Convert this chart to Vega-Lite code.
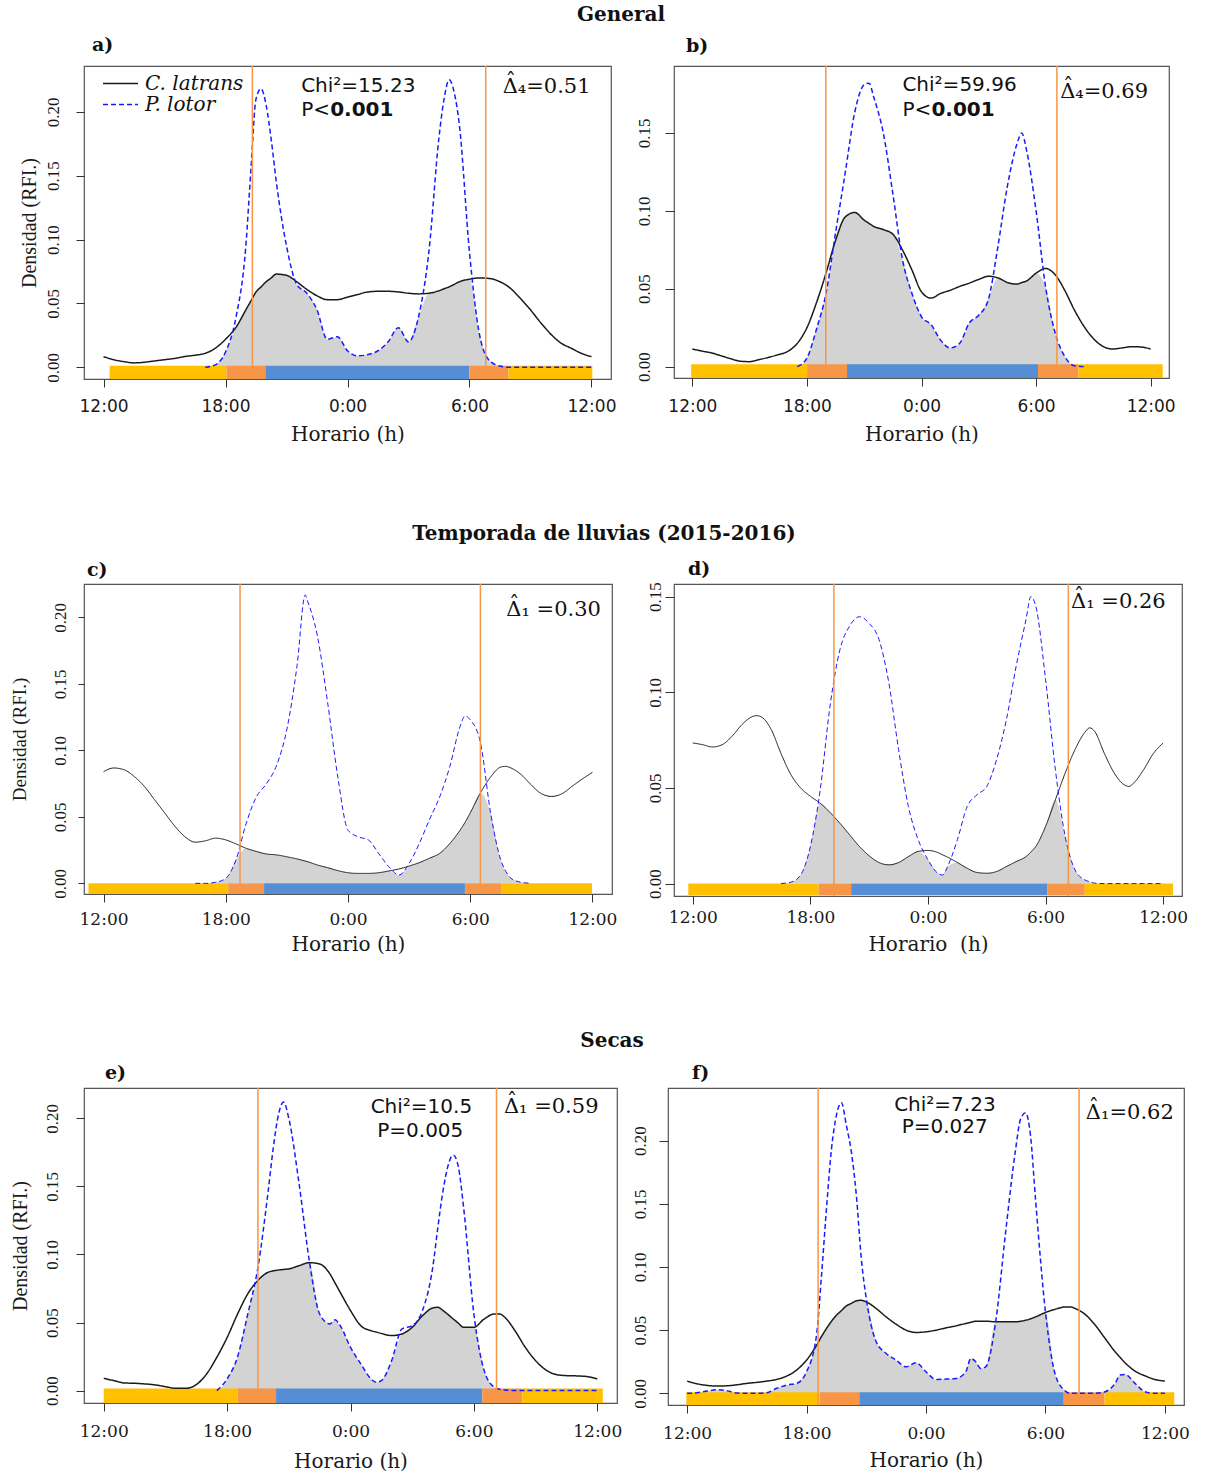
{
"$schema":"https://vega.github.io/schema/vega-lite/v6.json",
"background":"white",
"padding":{"left":9,"top":4,"right":5,"bottom":2},
"bounds":"flush",
"spacing":518,
"config":{"view":{"stroke":"#555","strokeWidth":1.2},"axis":{"domain":false,"grid":false,"tickColor":"#333","labelColor":"#1a1a1a","titleColor":"#1a1a1a","titleFontWeight":"normal","labelFlush":false,"labelOverlap":false},"title":{"color":"#111"}},
"datasets":{
"a":[
{"h":0,"k":0.0084,"r":null,"o":0},{"h":0.5,"k":0.006,"r":null,"o":0},{"h":1,"k":0.0045,"r":null,"o":0},{"h":1.5,"k":0.0035,"r":null,"o":0},{"h":2,"k":0.004,"r":null,"o":0},{"h":2.5,"k":0.005,"r":null,"o":0},{"h":3,"k":0.006,"r":null,"o":0},{"h":3.5,"k":0.007,"r":null,"o":0},{"h":4,"k":0.0085,"r":null,"o":0},{"h":4.5,"k":0.0095,"r":null,"o":0},{"h":5,"k":0.011,"r":0,"o":0},{"h":5.5,"k":0.015,"r":0.002,"o":0.002},{"h":6,"k":0.022,"r":0.012,"o":0.012},{"h":6.5,"k":0.031,"r":0.038,"o":0.031},{"h":7,"k":0.045,"r":0.095,"o":0.045},{"h":7.25,"k":0.052,"r":0.155,"o":0.052},{"h":7.5,"k":0.059,"r":0.21,"o":0.059},{"h":7.75,"k":0.063,"r":0.218,"o":0.063},{"h":8,"k":0.067,"r":0.205,"o":0.067},{"h":8.25,"k":0.07,"r":0.178,"o":0.07},{"h":8.5,"k":0.073,"r":0.145,"o":0.073},{"h":9,"k":0.072,"r":0.095,"o":0.072},{"h":9.5,"k":0.067,"r":0.065,"o":0.065},{"h":10,"k":0.061,"r":0.058,"o":0.058},{"h":10.5,"k":0.056,"r":0.045,"o":0.045},{"h":11,"k":0.053,"r":0.022,"o":0.022},{"h":11.5,"k":0.053,"r":0.024,"o":0.024},{"h":12,"k":0.055,"r":0.013,"o":0.013},{"h":12.5,"k":0.057,"r":0.009,"o":0.009},{"h":13,"k":0.059,"r":0.01,"o":0.01},{"h":13.5,"k":0.0595,"r":0.013,"o":0.013},{"h":14,"k":0.0595,"r":0.02,"o":0.02},{"h":14.5,"k":0.059,"r":0.031,"o":0.031},{"h":15,"k":0.058,"r":0.02,"o":0.02},{"h":15.5,"k":0.0575,"r":0.04,"o":0.04},{"h":16,"k":0.058,"r":0.09,"o":0.058},{"h":16.5,"k":0.06,"r":0.18,"o":0.06},{"h":16.75,"k":0.0615,"r":0.21,"o":0.0615},{"h":17,"k":0.063,"r":0.225,"o":0.063},{"h":17.25,"k":0.065,"r":0.215,"o":0.065},{"h":17.5,"k":0.067,"r":0.19,"o":0.067},{"h":18,"k":0.069,"r":0.09,"o":0.069},{"h":18.5,"k":0.07,"r":0.025,"o":0.025},{"h":19,"k":0.0695,"r":0.005,"o":0.005},{"h":19.5,"k":0.067,"r":0.001,"o":0.001},{"h":20,"k":0.062,"r":0,"o":0},{"h":20.5,"k":0.054,"r":0,"o":0},{"h":21,"k":0.045,"r":0,"o":0},{"h":21.5,"k":0.035,"r":0,"o":0},{"h":22,"k":0.026,"r":0,"o":0},{"h":22.5,"k":0.019,"r":0,"o":0},{"h":23,"k":0.015,"r":0,"o":0},{"h":23.5,"k":0.011,"r":0,"o":0},{"h":24,"k":0.0084,"r":0,"o":0}],
"b":[
{"h":0,"k":0.0113,"r":null,"o":0},{"h":0.5,"k":0.01,"r":null,"o":0},{"h":1,"k":0.0088,"r":null,"o":0},{"h":1.5,"k":0.007,"r":null,"o":0},{"h":2,"k":0.0051,"r":null,"o":0},{"h":2.5,"k":0.0035,"r":null,"o":0},{"h":3,"k":0.0032,"r":null,"o":0},{"h":3.5,"k":0.0045,"r":null,"o":0},{"h":4,"k":0.006,"r":null,"o":0},{"h":4.5,"k":0.0077,"r":null,"o":0},{"h":5,"k":0.0098,"r":null,"o":0},{"h":5.5,"k":0.015,"r":0,"o":0},{"h":6,"k":0.025,"r":0.0055,"o":0.0055},{"h":6.5,"k":0.041,"r":0.024,"o":0.024},{"h":7,"k":0.06,"r":0.047,"o":0.047},{"h":7.5,"k":0.081,"r":0.086,"o":0.081},{"h":8,"k":0.096,"r":0.124,"o":0.096},{"h":8.5,"k":0.099,"r":0.163,"o":0.099},{"h":9,"k":0.094,"r":0.181,"o":0.094},{"h":9.25,"k":0.092,"r":0.182,"o":0.092},{"h":9.5,"k":0.09,"r":0.173,"o":0.09},{"h":10,"k":0.088,"r":0.15,"o":0.088},{"h":10.5,"k":0.085,"r":0.111,"o":0.085},{"h":11,"k":0.075,"r":0.069,"o":0.069},{"h":11.5,"k":0.062,"r":0.047,"o":0.047},{"h":12,"k":0.048,"r":0.032,"o":0.032},{"h":12.5,"k":0.044,"r":0.027,"o":0.027},{"h":13,"k":0.047,"r":0.017,"o":0.017},{"h":13.5,"k":0.049,"r":0.012,"o":0.012},{"h":14,"k":0.0515,"r":0.015,"o":0.015},{"h":14.5,"k":0.0536,"r":0.028,"o":0.028},{"h":15,"k":0.056,"r":0.033,"o":0.033},{"h":15.5,"k":0.058,"r":0.043,"o":0.043},{"h":16,"k":0.057,"r":0.077,"o":0.057},{"h":16.5,"k":0.054,"r":0.116,"o":0.054},{"h":17,"k":0.053,"r":0.143,"o":0.053},{"h":17.25,"k":0.054,"r":0.15,"o":0.054},{"h":17.5,"k":0.055,"r":0.139,"o":0.055},{"h":18,"k":0.06,"r":0.1,"o":0.06},{"h":18.5,"k":0.063,"r":0.051,"o":0.051},{"h":19,"k":0.059,"r":0.0216,"o":0.0216},{"h":19.5,"k":0.049,"r":0.0066,"o":0.0066},{"h":20,"k":0.0365,"r":0.0006,"o":0.0006},{"h":20.5,"k":0.026,"r":0,"o":0},{"h":21,"k":0.018,"r":null,"o":0},{"h":21.5,"k":0.013,"r":null,"o":0},{"h":22,"k":0.0113,"r":null,"o":0},{"h":22.5,"k":0.012,"r":null,"o":0},{"h":23,"k":0.0128,"r":null,"o":0},{"h":23.5,"k":0.0126,"r":null,"o":0},{"h":24,"k":0.0113,"r":null,"o":0}],
"c":[
{"h":0,"k":0.084,"r":null,"o":0},{"h":0.5,"k":0.0868,"r":null,"o":0},{"h":1,"k":0.0855,"r":null,"o":0},{"h":1.5,"k":0.0805,"r":null,"o":0},{"h":2,"k":0.073,"r":null,"o":0},{"h":2.5,"k":0.063,"r":null,"o":0},{"h":3,"k":0.053,"r":null,"o":0},{"h":3.5,"k":0.043,"r":null,"o":0},{"h":4,"k":0.035,"r":null,"o":0},{"h":4.5,"k":0.031,"r":0,"o":0},{"h":5,"k":0.032,"r":0,"o":0},{"h":5.5,"k":0.034,"r":0.0008,"o":0.0008},{"h":6,"k":0.0327,"r":0.0038,"o":0.0038},{"h":6.5,"k":0.0297,"r":0.0176,"o":0.0176},{"h":7,"k":0.0264,"r":0.045,"o":0.0264},{"h":7.5,"k":0.024,"r":0.065,"o":0.024},{"h":8,"k":0.0221,"r":0.075,"o":0.0221},{"h":8.5,"k":0.0214,"r":0.089,"o":0.0214},{"h":9,"k":0.02,"r":0.116,"o":0.02},{"h":9.5,"k":0.0184,"r":0.164,"o":0.0184},{"h":9.9,"k":0.0168,"r":0.217,"o":0.0168},{"h":10,"k":0.0164,"r":0.213,"o":0.0164},{"h":10.5,"k":0.0138,"r":0.186,"o":0.0138},{"h":11,"k":0.0118,"r":0.136,"o":0.0118},{"h":11.5,"k":0.0096,"r":0.08,"o":0.0096},{"h":12,"k":0.008,"r":0.04,"o":0.008},{"h":12.5,"k":0.0075,"r":0.035,"o":0.0075},{"h":13,"k":0.0075,"r":0.0327,"o":0.0075},{"h":13.5,"k":0.008,"r":0.0226,"o":0.008},{"h":14,"k":0.0093,"r":0.0126,"o":0.0093},{"h":14.5,"k":0.0108,"r":0.0063,"o":0.0063},{"h":15,"k":0.013,"r":0.015,"o":0.013},{"h":15.5,"k":0.0156,"r":0.03,"o":0.0156},{"h":16,"k":0.0189,"r":0.048,"o":0.0189},{"h":16.5,"k":0.0226,"r":0.065,"o":0.0226},{"h":17,"k":0.03,"r":0.088,"o":0.03},{"h":17.5,"k":0.04,"r":0.118,"o":0.04},{"h":17.75,"k":0.046,"r":0.126,"o":0.046},{"h":18,"k":0.053,"r":0.123,"o":0.053},{"h":18.5,"k":0.068,"r":0.106,"o":0.068},{"h":19,"k":0.08,"r":0.053,"o":0.053},{"h":19.5,"k":0.0875,"r":0.0176,"o":0.0176},{"h":19.75,"k":0.088,"r":0.009,"o":0.009},{"h":20,"k":0.0868,"r":0.0038,"o":0.0038},{"h":20.5,"k":0.0818,"r":0.0008,"o":0.0008},{"h":21,"k":0.074,"r":0,"o":0},{"h":21.5,"k":0.0674,"r":null,"o":0},{"h":22,"k":0.0654,"r":null,"o":0},{"h":22.5,"k":0.0674,"r":null,"o":0},{"h":23,"k":0.073,"r":null,"o":0},{"h":23.5,"k":0.0785,"r":null,"o":0},{"h":24,"k":0.0835,"r":null,"o":0}],
"d":[
{"h":0,"k":0.0735,"r":null,"o":0},{"h":0.5,"k":0.0726,"r":null,"o":0},{"h":1,"k":0.0714,"r":null,"o":0},{"h":1.5,"k":0.0726,"r":null,"o":0},{"h":2,"k":0.077,"r":null,"o":0},{"h":2.5,"k":0.083,"r":null,"o":0},{"h":3,"k":0.0871,"r":null,"o":0},{"h":3.25,"k":0.0878,"r":null,"o":0},{"h":3.5,"k":0.0871,"r":null,"o":0},{"h":4,"k":0.0805,"r":null,"o":0},{"h":4.5,"k":0.068,"r":0,"o":0},{"h":5,"k":0.057,"r":0.0007,"o":0.0007},{"h":5.5,"k":0.05,"r":0.0045,"o":0.0045},{"h":6,"k":0.0456,"r":0.0194,"o":0.0194},{"h":6.5,"k":0.042,"r":0.049,"o":0.042},{"h":7,"k":0.0372,"r":0.0927,"o":0.0372},{"h":7.5,"k":0.0316,"r":0.122,"o":0.0316},{"h":8,"k":0.0255,"r":0.1346,"o":0.0255},{"h":8.5,"k":0.0194,"r":0.1395,"o":0.0194},{"h":9,"k":0.0145,"r":0.136,"o":0.0145},{"h":9.5,"k":0.011,"r":0.1276,"o":0.011},{"h":10,"k":0.0098,"r":0.105,"o":0.0098},{"h":10.5,"k":0.011,"r":0.07,"o":0.011},{"h":11,"k":0.0141,"r":0.0403,"o":0.0141},{"h":11.5,"k":0.0168,"r":0.0229,"o":0.0168},{"h":12,"k":0.0173,"r":0.0124,"o":0.0124},{"h":12.5,"k":0.0162,"r":0.0054,"o":0.0054},{"h":12.75,"k":0.015,"r":0.0045,"o":0.0045},{"h":13,"k":0.0138,"r":0.0089,"o":0.0089},{"h":13.5,"k":0.011,"r":0.0229,"o":0.011},{"h":14,"k":0.008,"r":0.0403,"o":0.008},{"h":14.5,"k":0.0058,"r":0.0464,"o":0.0058},{"h":15,"k":0.0054,"r":0.0508,"o":0.0054},{"h":15.5,"k":0.0063,"r":0.0648,"o":0.0063},{"h":16,"k":0.0089,"r":0.0857,"o":0.0089},{"h":16.5,"k":0.0115,"r":0.1137,"o":0.0115},{"h":17,"k":0.0141,"r":0.138,"o":0.0141},{"h":17.25,"k":0.0165,"r":0.15,"o":0.0165},{"h":17.5,"k":0.0194,"r":0.145,"o":0.0194},{"h":18,"k":0.0299,"r":0.1067,"o":0.0299},{"h":18.5,"k":0.0438,"r":0.0595,"o":0.0438},{"h":19,"k":0.0578,"r":0.0246,"o":0.0246},{"h":19.5,"k":0.07,"r":0.0072,"o":0.0072},{"h":20,"k":0.079,"r":0.0019,"o":0.0019},{"h":20.25,"k":0.0814,"r":0.001,"o":0.001},{"h":20.5,"k":0.0796,"r":0.0002,"o":0.0002},{"h":21,"k":0.068,"r":0,"o":0},{"h":21.5,"k":0.0578,"r":0,"o":0},{"h":22,"k":0.0517,"r":0,"o":0},{"h":22.25,"k":0.0508,"r":0,"o":0},{"h":22.5,"k":0.0526,"r":0,"o":0},{"h":23,"k":0.0595,"r":0,"o":0},{"h":23.5,"k":0.068,"r":0,"o":0},{"h":24,"k":0.0735,"r":0,"o":0}],
"e":[
{"h":0,"k":0.009,"r":null,"o":0},{"h":0.5,"k":0.0073,"r":null,"o":0},{"h":1,"k":0.0056,"r":null,"o":0},{"h":1.5,"k":0.0054,"r":null,"o":0},{"h":2,"k":0.0049,"r":null,"o":0},{"h":2.5,"k":0.0042,"r":null,"o":0},{"h":3,"k":0.0029,"r":null,"o":0},{"h":3.5,"k":0.0017,"r":null,"o":0},{"h":4,"k":0.0017,"r":null,"o":0},{"h":4.5,"k":0.0044,"r":null,"o":0},{"h":5,"k":0.0122,"r":null,"o":0},{"h":5.5,"k":0.0245,"r":0,"o":0},{"h":6,"k":0.039,"r":0.0086,"o":0.0086},{"h":6.5,"k":0.056,"r":0.0245,"o":0.0245},{"h":7,"k":0.071,"r":0.056,"o":0.056},{"h":7.5,"k":0.081,"r":0.0906,"o":0.081},{"h":8,"k":0.087,"r":0.147,"o":0.087},{"h":8.25,"k":0.088,"r":0.179,"o":0.088},{"h":8.5,"k":0.0886,"r":0.203,"o":0.0886},{"h":8.75,"k":0.089,"r":0.212,"o":0.089},{"h":9,"k":0.0894,"r":0.2,"o":0.0894},{"h":9.5,"k":0.0918,"r":0.152,"o":0.0918},{"h":10,"k":0.094,"r":0.095,"o":0.094},{"h":10.5,"k":0.093,"r":0.0563,"o":0.0563},{"h":11,"k":0.0857,"r":0.049,"o":0.049},{"h":11.25,"k":0.079,"r":0.052,"o":0.052},{"h":11.5,"k":0.0722,"r":0.0477,"o":0.0477},{"h":12,"k":0.0588,"r":0.0318,"o":0.0318},{"h":12.5,"k":0.0477,"r":0.0196,"o":0.0196},{"h":13,"k":0.044,"r":0.0086,"o":0.0086},{"h":13.25,"k":0.043,"r":0.0061,"o":0.0061},{"h":13.5,"k":0.042,"r":0.0073,"o":0.0073},{"h":14,"k":0.0404,"r":0.022,"o":0.022},{"h":14.5,"k":0.0416,"r":0.0453,"o":0.0416},{"h":15,"k":0.0465,"r":0.0477,"o":0.0465},{"h":15.5,"k":0.055,"r":0.0588,"o":0.055},{"h":16,"k":0.0607,"r":0.0906,"o":0.0607},{"h":16.25,"k":0.0612,"r":0.12,"o":0.0612},{"h":16.5,"k":0.0588,"r":0.147,"o":0.0588},{"h":17,"k":0.0526,"r":0.173,"o":0.0526},{"h":17.25,"k":0.0495,"r":0.164,"o":0.0495},{"h":17.5,"k":0.0465,"r":0.1346,"o":0.0465},{"h":18,"k":0.0465,"r":0.0563,"o":0.0465},{"h":18.5,"k":0.0526,"r":0.0147,"o":0.0147},{"h":19,"k":0.0563,"r":0.0024,"o":0.0024},{"h":19.25,"k":0.0563,"r":0.001,"o":0.001},{"h":19.5,"k":0.0539,"r":0.0005,"o":0.0005},{"h":20,"k":0.044,"r":0,"o":0},{"h":20.5,"k":0.0318,"r":0,"o":0},{"h":21,"k":0.022,"r":0,"o":0},{"h":21.5,"k":0.0152,"r":0,"o":0},{"h":22,"k":0.0118,"r":0,"o":0},{"h":22.5,"k":0.011,"r":0,"o":0},{"h":23,"k":0.0108,"r":0,"o":0},{"h":23.5,"k":0.0103,"r":0,"o":0},{"h":24,"k":0.0086,"r":0,"o":0}],
"f":[
{"h":0,"k":0.0097,"r":0,"o":0},{"h":0.5,"k":0.0076,"r":0.0005,"o":0.0005},{"h":1,"k":0.0063,"r":0.0018,"o":0.0018},{"h":1.5,"k":0.0058,"r":0.0029,"o":0.0029},{"h":2,"k":0.006,"r":0.0021,"o":0.0021},{"h":2.5,"k":0.0068,"r":0.0003,"o":0.0003},{"h":3,"k":0.0079,"r":0,"o":0},{"h":3.5,"k":0.0087,"r":0,"o":0},{"h":4,"k":0.0097,"r":0.0005,"o":0.0005},{"h":4.5,"k":0.011,"r":0.004,"o":0.004},{"h":5,"k":0.0137,"r":0.0066,"o":0.0066},{"h":5.5,"k":0.0184,"r":0.0079,"o":0.0079},{"h":6,"k":0.0263,"r":0.0171,"o":0.0171},{"h":6.5,"k":0.038,"r":0.046,"o":0.038},{"h":6.75,"k":0.045,"r":0.093,"o":0.045},{"h":7,"k":0.0513,"r":0.146,"o":0.0513},{"h":7.25,"k":0.057,"r":0.193,"o":0.057},{"h":7.5,"k":0.0618,"r":0.22,"o":0.0618},{"h":7.75,"k":0.0655,"r":0.23,"o":0.0655},{"h":8,"k":0.0692,"r":0.212,"o":0.0692},{"h":8.25,"k":0.0712,"r":0.191,"o":0.0712},{"h":8.5,"k":0.0732,"r":0.157,"o":0.0732},{"h":8.75,"k":0.0737,"r":0.1066,"o":0.0737},{"h":9,"k":0.0724,"r":0.075,"o":0.0724},{"h":9.5,"k":0.0671,"r":0.0408,"o":0.0408},{"h":10,"k":0.0605,"r":0.0316,"o":0.0316},{"h":10.5,"k":0.0547,"r":0.0263,"o":0.0263},{"h":11,"k":0.05,"r":0.021,"o":0.021},{"h":11.5,"k":0.0482,"r":0.0242,"o":0.0242},{"h":12,"k":0.0487,"r":0.0171,"o":0.0171},{"h":12.5,"k":0.05,"r":0.011,"o":0.011},{"h":13,"k":0.0518,"r":0.0113,"o":0.0113},{"h":13.5,"k":0.0534,"r":0.0118,"o":0.0118},{"h":14,"k":0.0553,"r":0.0171,"o":0.0171},{"h":14.25,"k":0.0562,"r":0.0276,"o":0.0276},{"h":14.5,"k":0.0571,"r":0.025,"o":0.025},{"h":14.75,"k":0.0571,"r":0.0197,"o":0.0197},{"h":15,"k":0.0571,"r":0.021,"o":0.021},{"h":15.5,"k":0.0566,"r":0.0566,"o":0.0566},{"h":16,"k":0.0566,"r":0.1276,"o":0.0566},{"h":16.5,"k":0.0566,"r":0.193,"o":0.0566},{"h":16.75,"k":0.057,"r":0.217,"o":0.057},{"h":17,"k":0.0579,"r":0.222,"o":0.0579},{"h":17.25,"k":0.059,"r":0.204,"o":0.059},{"h":17.5,"k":0.0605,"r":0.154,"o":0.0605},{"h":18,"k":0.064,"r":0.0645,"o":0.064},{"h":18.5,"k":0.0666,"r":0.0145,"o":0.0145},{"h":19,"k":0.0684,"r":0.0018,"o":0.0018},{"h":19.25,"k":0.0684,"r":0,"o":0},{"h":19.5,"k":0.0671,"r":0,"o":0},{"h":20,"k":0.0624,"r":0,"o":0},{"h":20.5,"k":0.054,"r":0,"o":0},{"h":21,"k":0.0434,"r":0.0013,"o":0.0013},{"h":21.5,"k":0.0329,"r":0.0079,"o":0.0079},{"h":21.75,"k":0.0285,"r":0.0145,"o":0.0145},{"h":22,"k":0.0242,"r":0.015,"o":0.015},{"h":22.5,"k":0.0176,"r":0.0079,"o":0.0079},{"h":23,"k":0.0139,"r":0.0013,"o":0.0013},{"h":23.5,"k":0.011,"r":0,"o":0},{"h":24,"k":0.0097,"r":0,"o":0}]
},
"vconcat":[
{"title":{"text":"General","anchor":"middle","frame":"group","dx":537,"offset":11,"font":"DejaVu Serif","fontSize":20,"fontWeight":"bold"},
 "bounds":"flush","spacing":63,
 "hconcat":[
 {"width":527,"height":313,
  "title":{"text":"a)","anchor":"start","frame":"group","dx":8,"offset":10,"font":"DejaVu Serif","fontSize":19,"fontWeight":"bold"},
  "layer":[
  {"data":{"name":"a"},"mark":{"type":"area","color":"#d3d3d3","interpolate":"monotone"},
   "encoding":{"x":{"field":"h","type":"quantitative","scale":{"domain":[-0.96,24.96],"nice":false,"zero":false},"axis":{"values":[0,6,12,18,24],"labelExpr":"datum.value==6?'18:00':datum.value==12?'0:00':datum.value==18?'6:00':'12:00'","tickSize":8,"labelPadding":11,"labelFont":"DejaVu Sans","labelFontSize":17,"titleFont":"DejaVu Serif","titleFontSize":20,"titlePadding":10},"title":"Horario (h)"},
   "y":{"field":"o","type":"quantitative","scale":{"domain":[-0.0091,0.2358],"nice":false,"zero":false},"axis":{"values":[0,0.05,0.1,0.15,0.2],"format":".2f","tickSize":8,"labelPadding":14,"labelAngle":270,"labelAlign":"center","labelBaseline":"bottom","labelFont":"Liberation Serif","labelFontSize":17,"titleFont":"Liberation Serif","titleFontSize":20,"titlePadding":5},"title":"Densidad (RFI.)"},
   "y2":{"datum":0}}},
  {"data":{"values":[{"x0":0.3,"x1":6.05,"c":"Y"},{"x0":6.05,"x1":7.96,"c":"O"},{"x0":7.96,"x1":17.99,"c":"B"},{"x0":17.99,"x1":19.92,"c":"O"},{"x0":19.92,"x1":24.04,"c":"Y"}]},"mark":{"type":"rect"},
   "encoding":{"x":{"field":"x0","type":"quantitative","scale":{"domain":[-0.96,24.96],"nice":false,"zero":false},"title":"Horario (h)"},"x2":{"field":"x1"},"y":{"datum":-0.0091,"type":"quantitative","scale":{"domain":[-0.0091,0.2358],"nice":false,"zero":false},"title":"Densidad (RFI.)"},"y2":{"datum":0.0012},"fill":{"field":"c","type":"nominal","scale":{"domain":["Y","O","B"],"range":["#FFC000","#F79646","#558ED5"]},"legend":null}}},
  {"data":{"name":"a"},"transform":[{"fold":["k","r"],"as":["s","v"]}],"mark":{"type":"line","interpolate":"monotone","strokeWidth":1.5},
   "encoding":{"x":{"field":"h","type":"quantitative","scale":{"domain":[-0.96,24.96],"nice":false,"zero":false},"title":"Horario (h)"},"y":{"field":"v","type":"quantitative","scale":{"domain":[-0.0091,0.2358],"nice":false,"zero":false},"title":"Densidad (RFI.)"},
   "color":{"field":"s","type":"nominal","scale":{"domain":["k","r"],"range":["#1a1a1a","#1a1aff"]},"legend":{"orient":"none","legendX":18,"legendY":7,"title":null,"labelExpr":"datum.value=='k'?'C. latrans':'P. lotor'","labelFont":"DejaVu Serif","labelFontStyle":"italic","labelFontSize":20,"labelColor":"#111","symbolType":"stroke","symbolSize":1225,"symbolStrokeWidth":1.4,"clipHeight":21,"rowPadding":0,"labelOffset":6,"padding":0}},
   "strokeDash":{"field":"s","type":"nominal","scale":{"domain":["k","r"],"range":[[1,0],[5,3]]},"legend":{"orient":"none","legendX":18,"legendY":7,"title":null,"labelExpr":"datum.value=='k'?'C. latrans':'P. lotor'","labelFont":"DejaVu Serif","labelFontStyle":"italic","labelFontSize":20,"labelColor":"#111","symbolType":"stroke","symbolSize":1225,"symbolStrokeWidth":1.4,"clipHeight":21,"rowPadding":0,"labelOffset":6,"padding":0}}}},
  {"data":{"values":[{"h":7.32},{"h":18.8}]},"mark":{"type":"rule","color":"#F79646","strokeWidth":1.5},"encoding":{"x":{"field":"h","type":"quantitative","scale":{"domain":[-0.96,24.96],"nice":false,"zero":false},"title":"Horario (h)"}}},
  {"data":{"values":[{"t":"Chi²=15.23"}]},"mark":{"type":"text","align":"left","baseline":"middle","font":"DejaVu Sans","fontSize":20,"color":"#111"},"encoding":{"text":{"field":"t"},"x":{"datum":9.72},"y":{"datum":0.22}}},
  {"data":{"values":[{"t":"P<"}]},"mark":{"type":"text","align":"left","baseline":"middle","font":"DejaVu Sans","fontSize":20,"color":"#111"},"encoding":{"text":{"field":"t"},"x":{"datum":9.72},"y":{"datum":0.201}}},
  {"data":{"values":[{"t":"0.001"}]},"mark":{"type":"text","align":"left","baseline":"middle","font":"DejaVu Sans","fontSize":20,"fontWeight":"bold","color":"#111","dx":29},"encoding":{"text":{"field":"t"},"x":{"datum":9.72},"y":{"datum":0.201}}},
  {"data":{"values":[{"t":"Δ₄=0.51"}]},"mark":{"type":"text","align":"left","baseline":"middle","font":"DejaVu Serif","fontSize":21,"color":"#111"},"encoding":{"text":{"field":"t"},"x":{"datum":19.63},"y":{"datum":0.219}}},
  {"data":{"values":[{"t":"ˆ"}]},"mark":{"type":"text","align":"center","baseline":"middle","font":"DejaVu Serif","fontSize":21,"color":"#111","dx":8,"dy":-5},"encoding":{"text":{"field":"t"},"x":{"datum":19.63},"y":{"datum":0.219}}}
  ]},
 {"width":495,"height":312,
  "title":{"text":"b)","anchor":"start","frame":"group","dx":12,"offset":9,"font":"DejaVu Serif","fontSize":19,"fontWeight":"bold"},
  "layer":[
  {"data":{"name":"b"},"mark":{"type":"area","color":"#d3d3d3","interpolate":"monotone"},
   "encoding":{"x":{"field":"h","type":"quantitative","scale":{"domain":[-0.96,24.96],"nice":false,"zero":false},"axis":{"values":[0,6,12,18,24],"labelExpr":"datum.value==6?'18:00':datum.value==12?'0:00':datum.value==18?'6:00':'12:00'","tickSize":8,"labelPadding":12,"labelFont":"DejaVu Sans","labelFontSize":17,"titleFont":"DejaVu Serif","titleFontSize":20,"titlePadding":10},"title":"Horario (h)"},
   "y":{"field":"o","type":"quantitative","scale":{"domain":[-0.0073,0.193],"nice":false,"zero":false},"axis":{"values":[0,0.05,0.1,0.15],"format":".2f","tickSize":9,"labelPadding":12,"labelAngle":270,"labelAlign":"center","labelBaseline":"bottom","labelFont":"Liberation Serif","labelFontSize":17},"title":null},
   "y2":{"datum":0}}},
  {"data":{"values":[{"x0":-0.06,"x1":6.01,"c":"Y"},{"x0":6.01,"x1":8.1,"c":"O"},{"x0":8.1,"x1":18.1,"c":"B"},{"x0":18.1,"x1":20.22,"c":"O"},{"x0":20.22,"x1":24.63,"c":"Y"}]},"mark":{"type":"rect"},
   "encoding":{"x":{"field":"x0","type":"quantitative","scale":{"domain":[-0.96,24.96],"nice":false,"zero":false},"title":"Horario (h)"},"x2":{"field":"x1"},"y":{"datum":-0.0073,"type":"quantitative","scale":{"domain":[-0.0073,0.193],"nice":false,"zero":false},"title":null},"y2":{"datum":0.0015},"fill":{"field":"c","type":"nominal","scale":{"domain":["Y","O","B"],"range":["#FFC000","#F79646","#558ED5"]},"legend":null}}},
  {"data":{"name":"b"},"transform":[{"fold":["k","r"],"as":["s","v"]}],"mark":{"type":"line","interpolate":"monotone","strokeWidth":1.5},
   "encoding":{"x":{"field":"h","type":"quantitative","scale":{"domain":[-0.96,24.96],"nice":false,"zero":false},"title":"Horario (h)"},"y":{"field":"v","type":"quantitative","scale":{"domain":[-0.0073,0.193],"nice":false,"zero":false},"title":null},
   "color":{"field":"s","type":"nominal","scale":{"domain":["k","r"],"range":["#1a1a1a","#1a1aff"]},"legend":null},
   "strokeDash":{"field":"s","type":"nominal","scale":{"domain":["k","r"],"range":[[1,0],[5,3]]},"legend":null}}},
  {"data":{"values":[{"h":6.99},{"h":19.09}]},"mark":{"type":"rule","color":"#F79646","strokeWidth":1.5},"encoding":{"x":{"field":"h","type":"quantitative","scale":{"domain":[-0.96,24.96],"nice":false,"zero":false},"title":"Horario (h)"}}},
  {"data":{"values":[{"t":"Chi²=59.96"}]},"mark":{"type":"text","align":"left","baseline":"middle","font":"DejaVu Sans","fontSize":20,"color":"#111"},"encoding":{"text":{"field":"t"},"x":{"datum":11.0},"y":{"datum":0.181}}},
  {"data":{"values":[{"t":"P<"}]},"mark":{"type":"text","align":"left","baseline":"middle","font":"DejaVu Sans","fontSize":20,"color":"#111"},"encoding":{"text":{"field":"t"},"x":{"datum":11.0},"y":{"datum":0.165}}},
  {"data":{"values":[{"t":"0.001"}]},"mark":{"type":"text","align":"left","baseline":"middle","font":"DejaVu Sans","fontSize":20,"fontWeight":"bold","color":"#111","dx":29},"encoding":{"text":{"field":"t"},"x":{"datum":11.0},"y":{"datum":0.165}}},
  {"data":{"values":[{"t":"Δ₄=0.69"}]},"mark":{"type":"text","align":"left","baseline":"middle","font":"DejaVu Serif","fontSize":21,"color":"#111"},"encoding":{"text":{"field":"t"},"x":{"datum":19.26},"y":{"datum":0.176}}},
  {"data":{"values":[{"t":"ˆ"}]},"mark":{"type":"text","align":"center","baseline":"middle","font":"DejaVu Serif","fontSize":21,"color":"#111","dx":8,"dy":-5},"encoding":{"text":{"field":"t"},"x":{"datum":19.26},"y":{"datum":0.176}}}
  ]}
 ]},
{"bounds":"flush","spacing":504,
 "vconcat":[
 {"title":{"text":"Temporada de lluvias (2015-2016)","anchor":"middle","frame":"group","dx":520,"offset":15,"font":"DejaVu Serif","fontSize":20,"fontWeight":"bold"},
  "bounds":"flush","spacing":62,
  "hconcat":[
  {"width":528,"height":310,
   "title":{"text":"c)","anchor":"start","frame":"group","dx":3,"offset":3,"font":"DejaVu Serif","fontSize":19,"fontWeight":"bold"},
   "layer":[
   {"data":{"name":"c"},"mark":{"type":"area","color":"#d3d3d3","interpolate":"monotone"},
    "encoding":{"x":{"field":"h","type":"quantitative","scale":{"domain":[-0.96,24.96],"nice":false,"zero":false},"axis":{"values":[0,6,12,18,24],"labelExpr":"datum.value==6?'18:00':datum.value==12?'0:00':datum.value==18?'6:00':'12:00'","tickSize":8,"labelPadding":9,"labelFont":"DejaVu Serif","labelFontSize":17,"titleFont":"DejaVu Serif","titleFontSize":20,"titlePadding":7},"title":"Horario (h)"},
    "y":{"field":"o","type":"quantitative","scale":{"domain":[-0.008,0.2252],"nice":false,"zero":false},"axis":{"values":[0,0.05,0.1,0.15,0.2],"format":".2f","tickSize":6,"labelPadding":9,"labelAngle":270,"labelAlign":"center","labelBaseline":"bottom","labelFont":"Liberation Serif","labelFontSize":17,"titleFont":"Liberation Serif","titleFontSize":19,"titlePadding":22},"title":"Densidad (RFI.)"},
    "y2":{"datum":0}}},
   {"data":{"values":[{"x0":-0.74,"x1":6.12,"c":"Y"},{"x0":6.12,"x1":7.88,"c":"O"},{"x0":7.88,"x1":17.74,"c":"B"},{"x0":17.74,"x1":19.51,"c":"O"},{"x0":19.51,"x1":23.98,"c":"Y"}]},"mark":{"type":"rect"},
    "encoding":{"x":{"field":"x0","type":"quantitative","scale":{"domain":[-0.96,24.96],"nice":false,"zero":false},"title":"Horario (h)"},"x2":{"field":"x1"},"y":{"datum":-0.008,"type":"quantitative","scale":{"domain":[-0.008,0.2252],"nice":false,"zero":false},"title":"Densidad (RFI.)"},"y2":{"datum":0},"fill":{"field":"c","type":"nominal","scale":{"domain":["Y","O","B"],"range":["#FFC000","#F79646","#558ED5"]},"legend":null}}},
   {"data":{"name":"c"},"transform":[{"fold":["k","r"],"as":["s","v"]}],"mark":{"type":"line","interpolate":"monotone","strokeWidth":1},
    "encoding":{"x":{"field":"h","type":"quantitative","scale":{"domain":[-0.96,24.96],"nice":false,"zero":false},"title":"Horario (h)"},"y":{"field":"v","type":"quantitative","scale":{"domain":[-0.008,0.2252],"nice":false,"zero":false},"title":"Densidad (RFI.)"},
    "color":{"field":"s","type":"nominal","scale":{"domain":["k","r"],"range":["#444444","#7070ff"]},"legend":{"orient":"none","legendX":10,"legendY":7,"title":null,"labelExpr":"datum.value=='k'?'c. l. familiaris':'P. lotor'","labelFont":"DejaVu Serif","labelFontStyle":"italic","labelFontSize":20,"labelColor":"#111","symbolType":"stroke","symbolSize":1225,"symbolStrokeWidth":1,"clipHeight":20,"rowPadding":0,"labelOffset":10,"padding":0}},
    "strokeDash":{"field":"s","type":"nominal","scale":{"domain":["k","r"],"range":[[1,0],[3,2]]},"legend":{"orient":"none","legendX":10,"legendY":7,"title":null,"labelExpr":"datum.value=='k'?'c. l. familiaris':'P. lotor'","labelFont":"DejaVu Serif","labelFontStyle":"italic","labelFontSize":20,"labelColor":"#111","symbolType":"stroke","symbolSize":1225,"symbolStrokeWidth":1,"clipHeight":20,"rowPadding":0,"labelOffset":10,"padding":0}}}},
   {"data":{"values":[{"h":6.7},{"h":18.5}]},"mark":{"type":"rule","color":"#F79646","strokeWidth":1.5},"encoding":{"x":{"field":"h","type":"quantitative","scale":{"domain":[-0.96,24.96],"nice":false,"zero":false},"title":"Horario (h)"}}},
   {"data":{"values":[{"t":"Δ₁ =0.30"}]},"mark":{"type":"text","align":"left","baseline":"middle","font":"DejaVu Serif","fontSize":21,"color":"#111"},"encoding":{"text":{"field":"t"},"x":{"datum":19.77},"y":{"datum":0.206}}},
   {"data":{"values":[{"t":"ˆ"}]},"mark":{"type":"text","align":"center","baseline":"middle","font":"DejaVu Serif","fontSize":21,"color":"#111","dx":8,"dy":-5},"encoding":{"text":{"field":"t"},"x":{"datum":19.77},"y":{"datum":0.206}}}
   ]},
  {"width":508,"height":312,
   "title":{"text":"d)","anchor":"start","frame":"group","dx":14,"offset":3,"font":"DejaVu Serif","fontSize":19,"fontWeight":"bold"},
   "layer":[
   {"data":{"name":"d"},"mark":{"type":"area","color":"#d3d3d3","interpolate":"monotone"},
    "encoding":{"x":{"field":"h","type":"quantitative","scale":{"domain":[-0.96,24.96],"nice":false,"zero":false},"axis":{"values":[0,6,12,18,24],"labelExpr":"datum.value==6?'18:00':datum.value==12?'0:00':datum.value==18?'6:00':'12:00'","tickSize":8,"labelPadding":5,"labelFont":"DejaVu Serif","labelFontSize":17,"titleFont":"DejaVu Serif","titleFontSize":20,"titlePadding":9},"title":"Horario\u00a0\u00a0(h)"},
    "y":{"field":"o","type":"quantitative","scale":{"domain":[-0.0065,0.1566],"nice":false,"zero":false},"axis":{"values":[0,0.05,0.1,0.15],"format":".2f","tickSize":9,"labelPadding":1,"labelAngle":270,"labelAlign":"center","labelBaseline":"bottom","labelFont":"Liberation Serif","labelFontSize":17},"title":null},
    "y2":{"datum":0}}},
   {"data":{"values":[{"x0":-0.23,"x1":6.42,"c":"Y"},{"x0":6.42,"x1":8.08,"c":"O"},{"x0":8.08,"x1":18.08,"c":"B"},{"x0":18.08,"x1":20.0,"c":"O"},{"x0":20.0,"x1":24.5,"c":"Y"}]},"mark":{"type":"rect"},
    "encoding":{"x":{"field":"x0","type":"quantitative","scale":{"domain":[-0.96,24.96],"nice":false,"zero":false},"title":"Horario\u00a0\u00a0(h)"},"x2":{"field":"x1"},"y":{"datum":-0.006,"type":"quantitative","scale":{"domain":[-0.0065,0.1566],"nice":false,"zero":false},"title":null},"y2":{"datum":0},"fill":{"field":"c","type":"nominal","scale":{"domain":["Y","O","B"],"range":["#FFC000","#F79646","#558ED5"]},"legend":null}}},
   {"data":{"name":"d"},"transform":[{"fold":["k","r"],"as":["s","v"]}],"mark":{"type":"line","interpolate":"monotone","strokeWidth":1},
    "encoding":{"x":{"field":"h","type":"quantitative","scale":{"domain":[-0.96,24.96],"nice":false,"zero":false},"title":"Horario\u00a0\u00a0(h)"},"y":{"field":"v","type":"quantitative","scale":{"domain":[-0.0065,0.1566],"nice":false,"zero":false},"title":null},
    "color":{"field":"s","type":"nominal","scale":{"domain":["k","r"],"range":["#444444","#7070ff"]},"legend":null},
    "strokeDash":{"field":"s","type":"nominal","scale":{"domain":["k","r"],"range":[[1,0],[3,2]]},"legend":null}}},
   {"data":{"values":[{"h":7.2},{"h":19.16}]},"mark":{"type":"rule","color":"#F79646","strokeWidth":1.5},"encoding":{"x":{"field":"h","type":"quantitative","scale":{"domain":[-0.96,24.96],"nice":false,"zero":false},"title":"Horario\u00a0\u00a0(h)"}}},
   {"data":{"values":[{"t":"Δ₁ =0.26"}]},"mark":{"type":"text","align":"left","baseline":"middle","font":"DejaVu Serif","fontSize":21,"color":"#111"},"encoding":{"text":{"field":"t"},"x":{"datum":19.3},"y":{"datum":0.147}}},
   {"data":{"values":[{"t":"ˆ"}]},"mark":{"type":"text","align":"center","baseline":"middle","font":"DejaVu Serif","fontSize":21,"color":"#111","dx":8,"dy":-5},"encoding":{"text":{"field":"t"},"x":{"datum":19.3},"y":{"datum":0.147}}}
   ]}
  ]},
 {"title":{"text":"Secas","anchor":"middle","frame":"group","dx":528,"offset":13,"font":"DejaVu Serif","fontSize":20,"fontWeight":"bold"},
  "bounds":"flush","spacing":51,
  "hconcat":[
  {"width":533,"height":315,
   "title":{"text":"e)","anchor":"start","frame":"group","dx":21,"offset":4,"font":"DejaVu Serif","fontSize":19,"fontWeight":"bold"},
   "layer":[
   {"data":{"name":"e"},"mark":{"type":"area","color":"#d3d3d3","interpolate":"monotone"},
    "encoding":{"x":{"field":"h","type":"quantitative","scale":{"domain":[-0.96,24.96],"nice":false,"zero":false},"axis":{"values":[0,6,12,18,24],"labelExpr":"datum.value==6?'18:00':datum.value==12?'0:00':datum.value==18?'6:00':'12:00'","tickSize":8,"labelPadding":12,"labelFont":"DejaVu Serif","labelFontSize":17,"titleFont":"DejaVu Serif","titleFontSize":20,"titlePadding":12},"title":"Horario (h)"},
    "y":{"field":"o","type":"quantitative","scale":{"domain":[-0.0091,0.2223],"nice":false,"zero":false},"axis":{"values":[0,0.05,0.1,0.15,0.2],"format":".2f","tickSize":8,"labelPadding":15,"labelAngle":270,"labelAlign":"center","labelBaseline":"bottom","labelFont":"Liberation Serif","labelFontSize":17,"titleFont":"Liberation Serif","titleFontSize":20,"titlePadding":13},"title":"Densidad (RFI.)"},
    "y2":{"datum":0}}},
   {"data":{"values":[{"x0":0,"x1":6.5,"c":"Y"},{"x0":6.5,"x1":8.38,"c":"O"},{"x0":8.38,"x1":18.41,"c":"B"},{"x0":18.41,"x1":20.35,"c":"O"},{"x0":20.35,"x1":24.27,"c":"Y"}]},"mark":{"type":"rect"},
    "encoding":{"x":{"field":"x0","type":"quantitative","scale":{"domain":[-0.96,24.96],"nice":false,"zero":false},"title":"Horario (h)"},"x2":{"field":"x1"},"y":{"datum":-0.0091,"type":"quantitative","scale":{"domain":[-0.0091,0.2223],"nice":false,"zero":false},"title":"Densidad (RFI.)"},"y2":{"datum":0.0015},"fill":{"field":"c","type":"nominal","scale":{"domain":["Y","O","B"],"range":["#FFC000","#F79646","#558ED5"]},"legend":null}}},
   {"data":{"name":"e"},"transform":[{"fold":["k","r"],"as":["s","v"]}],"mark":{"type":"line","interpolate":"monotone","strokeWidth":1.5},
    "encoding":{"x":{"field":"h","type":"quantitative","scale":{"domain":[-0.96,24.96],"nice":false,"zero":false},"title":"Horario (h)"},"y":{"field":"v","type":"quantitative","scale":{"domain":[-0.0091,0.2223],"nice":false,"zero":false},"title":"Densidad (RFI.)"},
    "color":{"field":"s","type":"nominal","scale":{"domain":["k","r"],"range":["#1a1a1a","#1a1aff"]},"legend":{"orient":"none","legendX":19,"legendY":4,"title":null,"labelExpr":"datum.value=='k'?'C. latrans':'P. lotor'","labelFont":"DejaVu Serif","labelFontStyle":"italic","labelFontSize":20,"labelColor":"#111","symbolType":"stroke","symbolSize":1369,"symbolStrokeWidth":1.4,"clipHeight":20,"rowPadding":0,"labelOffset":12,"padding":0}},
    "strokeDash":{"field":"s","type":"nominal","scale":{"domain":["k","r"],"range":[[1,0],[5,3]]},"legend":{"orient":"none","legendX":19,"legendY":4,"title":null,"labelExpr":"datum.value=='k'?'C. latrans':'P. lotor'","labelFont":"DejaVu Serif","labelFontStyle":"italic","labelFontSize":20,"labelColor":"#111","symbolType":"stroke","symbolSize":1369,"symbolStrokeWidth":1.4,"clipHeight":20,"rowPadding":0,"labelOffset":12,"padding":0}}}},
   {"data":{"values":[{"h":7.5},{"h":19.1}]},"mark":{"type":"rule","color":"#F79646","strokeWidth":1.5},"encoding":{"x":{"field":"h","type":"quantitative","scale":{"domain":[-0.96,24.96],"nice":false,"zero":false},"title":"Horario (h)"}}},
   {"data":{"values":[{"t":"Chi²=10.5"}]},"mark":{"type":"text","align":"left","baseline":"middle","font":"DejaVu Sans","fontSize":20,"color":"#111"},"encoding":{"text":{"field":"t"},"x":{"datum":12.98},"y":{"datum":0.208}}},
   {"data":{"values":[{"t":"P=0.005"}]},"mark":{"type":"text","align":"left","baseline":"middle","font":"DejaVu Sans","fontSize":20,"color":"#111"},"encoding":{"text":{"field":"t"},"x":{"datum":13.3},"y":{"datum":0.191}}},
   {"data":{"values":[{"t":"Δ₁ =0.59"}]},"mark":{"type":"text","align":"left","baseline":"middle","font":"DejaVu Serif","fontSize":21,"color":"#111"},"encoding":{"text":{"field":"t"},"x":{"datum":19.46},"y":{"datum":0.208}}},
   {"data":{"values":[{"t":"ˆ"}]},"mark":{"type":"text","align":"center","baseline":"middle","font":"DejaVu Serif","fontSize":21,"color":"#111","dx":8,"dy":-5},"encoding":{"text":{"field":"t"},"x":{"datum":19.46},"y":{"datum":0.208}}}
   ]},
  {"width":516,"height":317,
   "title":{"text":"f)","anchor":"start","frame":"group","dx":24,"offset":4,"font":"DejaVu Serif","fontSize":19,"fontWeight":"bold"},
   "layer":[
   {"data":{"name":"f"},"mark":{"type":"area","color":"#d3d3d3","interpolate":"monotone"},
    "encoding":{"x":{"field":"h","type":"quantitative","scale":{"domain":[-0.96,24.96],"nice":false,"zero":false},"axis":{"values":[0,6,12,18,24],"labelExpr":"datum.value==6?'18:00':datum.value==12?'0:00':datum.value==18?'6:00':'12:00'","tickSize":8,"labelPadding":12,"labelFont":"DejaVu Serif","labelFontSize":17,"titleFont":"DejaVu Serif","titleFontSize":20,"titlePadding":9},"title":"Horario (h)"},
    "y":{"field":"o","type":"quantitative","scale":{"domain":[-0.0092,0.2416],"nice":false,"zero":false},"axis":{"values":[0,0.05,0.1,0.15,0.2],"format":".2f","tickSize":9,"labelPadding":10,"labelAngle":270,"labelAlign":"center","labelBaseline":"bottom","labelFont":"Liberation Serif","labelFontSize":17},"title":null},
    "y2":{"datum":0}}},
   {"data":{"values":[{"x0":-0.04,"x1":6.66,"c":"Y"},{"x0":6.66,"x1":8.65,"c":"O"},{"x0":8.65,"x1":18.92,"c":"B"},{"x0":18.92,"x1":20.97,"c":"O"},{"x0":20.97,"x1":24.47,"c":"Y"}]},"mark":{"type":"rect"},
    "encoding":{"x":{"field":"x0","type":"quantitative","scale":{"domain":[-0.96,24.96],"nice":false,"zero":false},"title":"Horario (h)"},"x2":{"field":"x1"},"y":{"datum":-0.0092,"type":"quantitative","scale":{"domain":[-0.0092,0.2416],"nice":false,"zero":false},"title":null},"y2":{"datum":0.0008},"fill":{"field":"c","type":"nominal","scale":{"domain":["Y","O","B"],"range":["#FFC000","#F79646","#558ED5"]},"legend":null}}},
   {"data":{"name":"f"},"transform":[{"fold":["k","r"],"as":["s","v"]}],"mark":{"type":"line","interpolate":"monotone","strokeWidth":1.5},
    "encoding":{"x":{"field":"h","type":"quantitative","scale":{"domain":[-0.96,24.96],"nice":false,"zero":false},"title":"Horario (h)"},"y":{"field":"v","type":"quantitative","scale":{"domain":[-0.0092,0.2416],"nice":false,"zero":false},"title":null},
    "color":{"field":"s","type":"nominal","scale":{"domain":["k","r"],"range":["#1a1a1a","#1a1aff"]},"legend":null},
    "strokeDash":{"field":"s","type":"nominal","scale":{"domain":["k","r"],"range":[[1,0],[5,3]]},"legend":null}}},
   {"data":{"values":[{"h":6.58},{"h":19.69}]},"mark":{"type":"rule","color":"#F79646","strokeWidth":1.5},"encoding":{"x":{"field":"h","type":"quantitative","scale":{"domain":[-0.96,24.96],"nice":false,"zero":false},"title":"Horario (h)"}}},
   {"data":{"values":[{"t":"Chi²=7.23"}]},"mark":{"type":"text","align":"left","baseline":"middle","font":"DejaVu Sans","fontSize":20,"color":"#111"},"encoding":{"text":{"field":"t"},"x":{"datum":10.4},"y":{"datum":0.228}}},
   {"data":{"values":[{"t":"P=0.027"}]},"mark":{"type":"text","align":"left","baseline":"middle","font":"DejaVu Sans","fontSize":20,"color":"#111"},"encoding":{"text":{"field":"t"},"x":{"datum":10.78},"y":{"datum":0.2105}}},
   {"data":{"values":[{"t":"Δ₁=0.62"}]},"mark":{"type":"text","align":"left","baseline":"middle","font":"DejaVu Serif","fontSize":21,"color":"#111"},"encoding":{"text":{"field":"t"},"x":{"datum":20.03},"y":{"datum":0.222}}},
   {"data":{"values":[{"t":"ˆ"}]},"mark":{"type":"text","align":"center","baseline":"middle","font":"DejaVu Serif","fontSize":21,"color":"#111","dx":8,"dy":-5},"encoding":{"text":{"field":"t"},"x":{"datum":20.03},"y":{"datum":0.222}}}
   ]}
  ]}
 ]}
]
}
